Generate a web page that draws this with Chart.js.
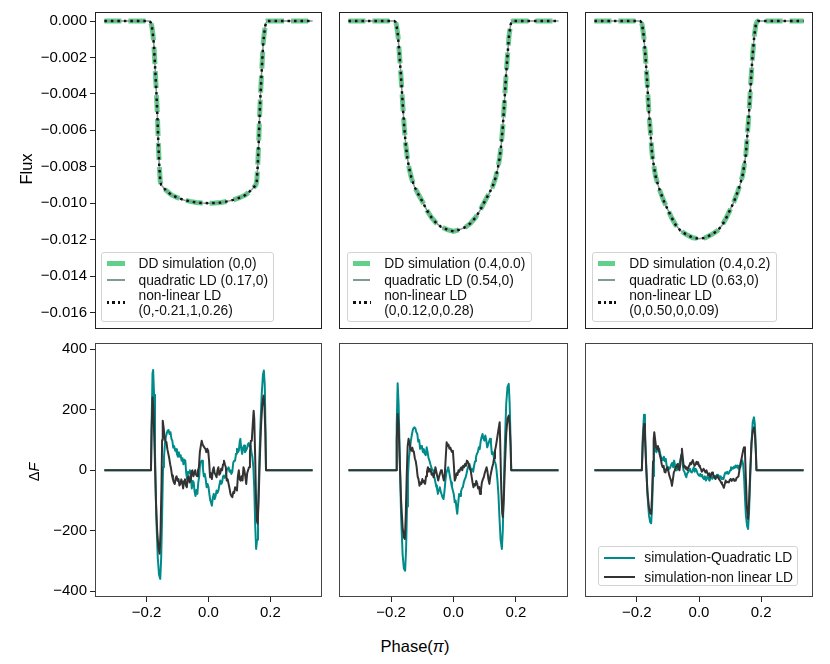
<!DOCTYPE html>
<html><head><meta charset="utf-8">
<script src="https://cdn.jsdelivr.net/npm/chart.js@4.4.0/dist/chart.umd.min.js"></script>
<style>
body{margin:0;background:#fff;width:830px;height:664px;position:relative;overflow:hidden;font-family:"Liberation Sans",Arial,sans-serif;color:#000;}
.pc{position:absolute}
.lg{position:absolute;border:1px solid #d3d3d3;border-radius:3px;background:rgba(255,255,255,0.8);box-sizing:border-box;font-size:13.8px;color:#111;}
.lg .h{position:absolute}
.lg .t{position:absolute;line-height:15px;white-space:nowrap}
.ax{position:absolute;white-space:nowrap;font-size:16.5px;line-height:20px}
</style></head><body>
<script>
// ---------- data ----------
const phaseTicks = [-0.2, 0, 0.2];
const fluxTicks = [0, -0.002, -0.004, -0.006, -0.008, -0.010, -0.012, -0.014, -0.016];
const dfTicks = [400, 200, 0, -200, -400];

const legendSim = ["DD simulation (0,0)", "DD simulation (0.4,0.0)", "DD simulation (0.4,0.2)"];
const legendQuad = ["quadratic LD (0.17,0)", "quadratic LD (0.54,0)", "quadratic LD (0.63,0)"];
const legendNL = [["non-linear LD", "(0,-0.21,1,0.26)"], ["non-linear LD", "(0,0.12,0,0.28)"], ["non-linear LD", "(0,0.50,0,0.09)"]];
const legendRes = ["simulation-Quadratic LD", "simulation-non linear LD"];

const fluxSim1 = [[-0.3367,0],[-0.19,0],[-0.186,-0.0001],[-0.183,-0.0003],[-0.180,-0.0007],[-0.177,-0.0012],[-0.174,-0.0021],[-0.171,-0.0031],[-0.168,-0.0041],[-0.165,-0.0053],[-0.162,-0.0068],[-0.159,-0.0080],[-0.156,-0.0088],[-0.153,-0.0090],[-0.14,-0.00925],[-0.12,-0.00955],[-0.10,-0.0097],[-0.08,-0.00982],[-0.06,-0.0099],[-0.04,-0.00996],[-0.02,-0.00999],[0,-0.0100],[0.02,-0.00999],[0.04,-0.00996],[0.06,-0.0099],[0.08,-0.00982],[0.10,-0.0097],[0.12,-0.00955],[0.14,-0.00925],[0.153,-0.0090],[0.156,-0.0088],[0.159,-0.0080],[0.162,-0.0068],[0.165,-0.0053],[0.168,-0.0041],[0.171,-0.0031],[0.174,-0.0021],[0.177,-0.0012],[0.180,-0.0007],[0.183,-0.0003],[0.186,-0.0001],[0.19,0],[0.3367,0]];
const fluxSim2 = [[-0.3367,0],[-0.19,0],[-0.186,-0.00005],[-0.183,-0.0002],[-0.178,-0.0008],[-0.173,-0.0019],[-0.168,-0.0031],[-0.163,-0.0045],[-0.158,-0.0058],[-0.153,-0.0068],[-0.148,-0.0075],[-0.142,-0.0081],[-0.135,-0.0086],[-0.125,-0.0091],[-0.113,-0.0095],[-0.100,-0.0099],[-0.085,-0.0104],[-0.070,-0.0108],[-0.055,-0.0111],[-0.040,-0.0113],[-0.020,-0.01145],[0,-0.01155],[0.020,-0.01145],[0.040,-0.0113],[0.055,-0.0111],[0.070,-0.0108],[0.085,-0.0104],[0.100,-0.0099],[0.113,-0.0095],[0.125,-0.0091],[0.135,-0.0086],[0.142,-0.0081],[0.148,-0.0075],[0.153,-0.0068],[0.158,-0.0058],[0.163,-0.0045],[0.168,-0.0031],[0.173,-0.0019],[0.178,-0.0008],[0.183,-0.0002],[0.186,-0.00005],[0.19,0],[0.3367,0]];
const fluxSim3 = [[-0.3367,0],[-0.19,0],[-0.186,-0.00005],[-0.183,-0.0002],[-0.178,-0.0008],[-0.1725,-0.0019],[-0.167,-0.0033],[-0.162,-0.0048],[-0.156,-0.0062],[-0.151,-0.0073],[-0.145,-0.0080],[-0.140,-0.0085],[-0.132,-0.0090],[-0.124,-0.0094],[-0.113,-0.0099],[-0.102,-0.0103],[-0.088,-0.0108],[-0.075,-0.0112],[-0.060,-0.0115],[-0.043,-0.0117],[-0.020,-0.0119],[0,-0.01195],[0.020,-0.0119],[0.043,-0.0117],[0.060,-0.0115],[0.075,-0.0112],[0.088,-0.0108],[0.102,-0.0103],[0.113,-0.0099],[0.124,-0.0094],[0.132,-0.0090],[0.140,-0.0085],[0.145,-0.0080],[0.151,-0.0073],[0.156,-0.0062],[0.162,-0.0048],[0.167,-0.0033],[0.1725,-0.0019],[0.178,-0.0008],[0.183,-0.0002],[0.186,-0.00005],[0.19,0],[0.3367,0]];
// fitted models overlap the simulation within a pixel
const fluxQuad1 = fluxSim1, fluxNL1 = fluxSim1;
const fluxQuad2 = fluxSim2, fluxNL2 = fluxSim2;
const fluxQuad3 = fluxSim3, fluxNL3 = fluxSim3;

const resQuad1 = [[-0.3367,0],[-0.186,0],[-0.184,150],[-0.181,320],[-0.179,332],[-0.176,250],[-0.173,60],[-0.169,-150],[-0.164,-290],[-0.160,-345],[-0.156,-359],[-0.153,-290],[-0.150,-150],[-0.147,10],[-0.144,43],[-0.141,85],[-0.138,110],[-0.135,122],[-0.132,131],[-0.129,133],[-0.126,120],[-0.123,126],[-0.120,105],[-0.117,98],[-0.114,75],[-0.111,80],[-0.108,65],[-0.105,70],[-0.102,54],[-0.099,45],[-0.096,60],[-0.093,45],[-0.090,50],[-0.087,32],[-0.084,40],[-0.081,20],[-0.078,35],[-0.075,32],[-0.072,-10],[-0.069,-30],[-0.066,-5],[-0.063,-10],[-0.060,0],[-0.057,-20],[-0.054,-60],[-0.051,-35],[-0.048,-40],[-0.045,-70],[-0.042,-85],[-0.039,-65],[-0.036,-78],[-0.033,-40],[-0.030,-20],[-0.027,25],[-0.024,30],[-0.021,32],[-0.018,5],[-0.015,-20],[-0.012,-12],[-0.009,-30],[-0.006,-56],[-0.003,-45],[0.000,-56],[0.003,-80],[0.006,-100],[0.009,-110],[0.011,-117],[0.014,-90],[0.017,-78],[0.020,-95],[0.023,-85],[0.026,-67],[0.029,-75],[0.032,-67],[0.035,-50],[0.038,-34],[0.041,-45],[0.044,-40],[0.047,-20],[0.050,-17],[0.053,-25],[0.056,-17],[0.059,0],[0.062,5],[0.065,10],[0.068,-5],[0.071,0],[0.074,-12],[0.077,-5],[0.080,25],[0.083,32],[0.086,32],[0.089,55],[0.092,71],[0.095,60],[0.098,65],[0.101,95],[0.103,104],[0.106,70],[0.109,54],[0.112,75],[0.115,82],[0.118,60],[0.121,65],[0.124,71],[0.127,85],[0.130,90],[0.133,78],[0.136,82],[0.139,60],[0.142,43],[0.145,10],[0.148,-60],[0.151,-180],[0.154,-260],[0.157,-230],[0.160,-140],[0.164,20],[0.168,150],[0.172,250],[0.176,315],[0.179,330],[0.182,280],[0.184,150],[0.186,0],[0.3367,0]];
const resNL1 = [[-0.3367,0],[-0.186,0],[-0.184,130],[-0.181,241],[-0.178,200],[-0.174,60],[-0.170,-100],[-0.166,-200],[-0.162,-255],[-0.158,-276],[-0.155,-200],[-0.152,-50],[-0.150,100],[-0.148,164],[-0.145,140],[-0.142,110],[-0.139,95],[-0.136,93],[-0.133,70],[-0.130,55],[-0.127,40],[-0.124,20],[-0.121,5],[-0.118,-17],[-0.115,-30],[-0.112,-40],[-0.109,-45],[-0.106,-25],[-0.103,-20],[-0.100,-35],[-0.097,-29],[-0.094,-50],[-0.091,-45],[-0.088,-30],[-0.085,-40],[-0.082,-60],[-0.079,-35],[-0.076,-30],[-0.073,-50],[-0.070,-56],[-0.067,-25],[-0.064,-20],[-0.061,-40],[-0.058,-35],[-0.055,-5],[-0.052,0],[-0.049,-20],[-0.046,-10],[-0.043,0],[-0.040,-15],[-0.037,-20],[-0.034,0],[-0.031,10],[-0.028,60],[-0.025,80],[-0.022,98],[-0.019,85],[-0.016,80],[-0.013,75],[-0.010,71],[-0.007,60],[-0.004,71],[-0.001,65],[0.002,30],[0.005,-23],[0.008,-10],[0.011,-29],[0.014,0],[0.017,10],[0.020,-10],[0.023,-15],[0.026,-23],[0.029,0],[0.032,10],[0.035,-15],[0.038,-10],[0.041,5],[0.044,0],[0.047,20],[0.050,32],[0.053,20],[0.056,10],[0.059,-34],[0.062,-30],[0.065,-45],[0.068,-60],[0.071,-78],[0.074,-85],[0.077,-89],[0.080,-72],[0.083,-75],[0.086,-56],[0.089,-60],[0.092,-67],[0.095,-20],[0.098,0],[0.101,-30],[0.104,-34],[0.107,-20],[0.110,-34],[0.113,10],[0.116,0],[0.119,-20],[0.122,-45],[0.125,-10],[0.128,0],[0.131,10],[0.134,60],[0.137,98],[0.140,98],[0.143,150],[0.146,197],[0.148,170],[0.151,40],[0.154,-110],[0.157,-170],[0.159,-177],[0.162,-100],[0.166,40],[0.170,150],[0.174,220],[0.178,247],[0.181,210],[0.184,120],[0.186,0],[0.3367,0]];
const resQuad2 = [[-0.3367,0],[-0.184,0],[-0.182,150],[-0.179,288],[-0.176,220],[-0.172,40],[-0.168,-150],[-0.163,-280],[-0.159,-325],[-0.155,-332],[-0.152,-260],[-0.149,-120],[-0.146,-20],[-0.143,40],[-0.140,65],[-0.137,95],[-0.134,115],[-0.131,131],[-0.128,140],[-0.125,142],[-0.122,138],[-0.119,126],[-0.116,120],[-0.113,95],[-0.110,100],[-0.107,71],[-0.104,80],[-0.101,76],[-0.098,60],[-0.095,70],[-0.092,54],[-0.089,50],[-0.086,76],[-0.083,60],[-0.080,40],[-0.077,32],[-0.074,20],[-0.071,10],[-0.068,0],[-0.065,0],[-0.062,-20],[-0.059,-34],[-0.056,-50],[-0.053,-60],[-0.050,-78],[-0.047,-65],[-0.044,-56],[-0.041,-70],[-0.038,-80],[-0.035,-90],[-0.032,-95],[-0.029,-70],[-0.026,-34],[-0.023,-10],[-0.020,0],[-0.017,10],[-0.014,-5],[-0.011,-23],[-0.008,-40],[-0.005,-55],[-0.002,-67],[0.001,-80],[0.004,-106],[0.007,-100],[0.010,-130],[0.012,-144],[0.015,-110],[0.018,-78],[0.021,-85],[0.024,-70],[0.027,-60],[0.030,-56],[0.033,-40],[0.036,-30],[0.039,-23],[0.042,-10],[0.045,5],[0.048,15],[0.051,21],[0.054,10],[0.057,0],[0.060,5],[0.063,-5],[0.066,15],[0.069,30],[0.072,43],[0.075,55],[0.078,60],[0.081,76],[0.084,70],[0.087,95],[0.090,110],[0.093,120],[0.096,105],[0.099,98],[0.102,115],[0.105,100],[0.108,76],[0.111,85],[0.114,95],[0.117,104],[0.120,90],[0.123,54],[0.126,60],[0.129,45],[0.132,30],[0.135,21],[0.138,0],[0.141,-34],[0.144,-80],[0.147,-150],[0.151,-230],[0.155,-260],[0.158,-200],[0.161,-60],[0.165,100],[0.169,220],[0.173,275],[0.177,286],[0.180,220],[0.183,100],[0.185,0],[0.3367,0]];
const resNL2 = [[-0.3367,0],[-0.184,0],[-0.182,100],[-0.179,186],[-0.176,150],[-0.172,20],[-0.168,-100],[-0.163,-190],[-0.159,-222],[-0.156,-227],[-0.153,-150],[-0.150,-20],[-0.147,80],[-0.144,104],[-0.141,90],[-0.138,70],[-0.135,65],[-0.132,75],[-0.129,62],[-0.127,60],[-0.124,40],[-0.121,30],[-0.118,10],[-0.115,-20],[-0.112,-30],[-0.109,-51],[-0.106,-40],[-0.103,-45],[-0.100,-29],[-0.097,-40],[-0.094,-35],[-0.091,-45],[-0.088,-20],[-0.085,-5],[-0.082,10],[-0.079,-5],[-0.076,5],[-0.073,0],[-0.070,-15],[-0.067,-10],[-0.064,-23],[-0.061,-10],[-0.058,10],[-0.055,-5],[-0.052,-20],[-0.049,-34],[-0.046,-20],[-0.043,-10],[-0.040,0],[-0.037,-5],[-0.034,-20],[-0.031,-34],[-0.028,-15],[-0.025,40],[-0.022,93],[-0.019,80],[-0.016,85],[-0.013,71],[-0.010,75],[-0.007,65],[-0.004,60],[-0.002,65],[0.001,20],[0.004,-34],[0.007,-25],[0.010,-10],[0.013,-15],[0.016,0],[0.019,-5],[0.022,5],[0.025,10],[0.028,0],[0.031,15],[0.034,10],[0.037,21],[0.040,15],[0.043,32],[0.046,28],[0.049,20],[0.052,5],[0.055,0],[0.058,-20],[0.061,-40],[0.064,-56],[0.067,-45],[0.070,-50],[0.073,-35],[0.076,-45],[0.079,-60],[0.082,-55],[0.085,-78],[0.088,-65],[0.091,-40],[0.094,-30],[0.097,-23],[0.100,-10],[0.103,0],[0.106,10],[0.109,-5],[0.112,-30],[0.115,-45],[0.118,-20],[0.121,-5],[0.124,10],[0.127,21],[0.130,40],[0.133,65],[0.136,80],[0.139,100],[0.142,120],[0.145,140],[0.148,159],[0.150,80],[0.153,-60],[0.156,-140],[0.158,-155],[0.161,-100],[0.165,20],[0.169,120],[0.173,170],[0.177,181],[0.180,150],[0.183,80],[0.185,0],[0.3367,0]];
const resQuad3 = [[-0.3367,0],[-0.184,0],[-0.181,110],[-0.177,184],[-0.174,140],[-0.170,20],[-0.166,-80],[-0.161,-150],[-0.157,-172],[-0.154,-175],[-0.151,-120],[-0.148,-20],[-0.145,60],[-0.143,82],[-0.140,65],[-0.137,60],[-0.134,75],[-0.131,65],[-0.128,71],[-0.125,55],[-0.122,43],[-0.119,40],[-0.116,33],[-0.113,45],[-0.110,30],[-0.107,38],[-0.104,15],[-0.101,0],[-0.098,10],[-0.095,5],[-0.092,10],[-0.089,20],[-0.086,25],[-0.083,10],[-0.080,32],[-0.077,15],[-0.074,0],[-0.071,10],[-0.068,20],[-0.065,10],[-0.062,25],[-0.059,40],[-0.056,55],[-0.053,30],[-0.050,0],[-0.047,-5],[-0.044,-15],[-0.041,-23],[-0.038,-10],[-0.035,-7],[-0.032,0],[-0.029,5],[-0.026,-5],[-0.023,-7],[-0.020,0],[-0.017,10],[-0.014,-5],[-0.011,5],[-0.008,0],[-0.005,-10],[-0.002,-15],[0.001,-18],[0.004,-12],[0.007,-20],[0.010,-15],[0.013,-25],[0.016,-29],[0.019,-20],[0.022,-34],[0.025,-25],[0.028,-18],[0.031,-30],[0.034,-34],[0.037,-25],[0.040,-20],[0.043,-28],[0.046,-18],[0.049,-25],[0.052,-18],[0.055,-23],[0.058,-15],[0.061,-20],[0.064,-18],[0.067,-25],[0.070,-20],[0.073,-29],[0.076,-25],[0.079,-29],[0.082,-15],[0.085,-7],[0.088,-10],[0.091,-5],[0.094,-12],[0.097,-8],[0.100,0],[0.103,10],[0.106,8],[0.109,5],[0.112,12],[0.115,8],[0.118,16],[0.121,10],[0.124,16],[0.127,5],[0.130,15],[0.133,10],[0.136,25],[0.139,33],[0.142,20],[0.145,-20],[0.148,-90],[0.151,-150],[0.155,-185],[0.158,-194],[0.161,-140],[0.165,-20],[0.169,90],[0.173,160],[0.177,175],[0.180,150],[0.183,70],[0.185,0],[0.3367,0]];
const resNL3 = [[-0.3367,0],[-0.184,0],[-0.181,90],[-0.177,153],[-0.174,110],[-0.170,10],[-0.166,-70],[-0.161,-125],[-0.157,-142],[-0.154,-144],[-0.151,-80],[-0.148,30],[-0.146,100],[-0.144,126],[-0.141,100],[-0.138,76],[-0.135,70],[-0.132,80],[-0.129,65],[-0.126,50],[-0.123,38],[-0.120,20],[-0.117,10],[-0.114,15],[-0.111,-5],[-0.108,-7],[-0.105,5],[-0.102,10],[-0.099,0],[-0.096,-15],[-0.093,-25],[-0.090,-34],[-0.087,-51],[-0.084,-30],[-0.081,-7],[-0.078,0],[-0.075,10],[-0.072,15],[-0.069,21],[-0.066,5],[-0.063,0],[-0.060,20],[-0.057,50],[-0.055,71],[-0.052,40],[-0.049,10],[-0.046,15],[-0.043,5],[-0.040,10],[-0.037,0],[-0.034,10],[-0.031,16],[-0.028,25],[-0.025,20],[-0.022,30],[-0.020,34],[-0.017,23],[-0.014,15],[-0.011,20],[-0.008,28],[-0.005,20],[-0.003,27],[0.000,15],[0.003,10],[0.006,5],[0.009,-5],[0.012,0],[0.015,5],[0.018,-2],[0.021,-7],[0.024,0],[0.027,-10],[0.030,-15],[0.033,-10],[0.036,-23],[0.039,-15],[0.042,-7],[0.045,-12],[0.048,-20],[0.051,-25],[0.053,-29],[0.056,-22],[0.059,-18],[0.062,-25],[0.065,-30],[0.068,-34],[0.071,-40],[0.074,-45],[0.077,-50],[0.080,-58],[0.083,-45],[0.086,-34],[0.089,-40],[0.092,-38],[0.096,-40],[0.099,-32],[0.102,-29],[0.105,-35],[0.108,-30],[0.111,-28],[0.114,-35],[0.118,-34],[0.121,-25],[0.124,-23],[0.127,-20],[0.130,0],[0.134,25],[0.137,38],[0.140,55],[0.143,70],[0.145,76],[0.148,60],[0.151,-30],[0.154,-120],[0.158,-161],[0.161,-110],[0.165,0],[0.169,90],[0.173,130],[0.177,142],[0.180,120],[0.183,60],[0.185,0],[0.3367,0]];

// ---------- styling / layout ----------
const C = {sim:'#62cf8b', quad:'#7d9a95', nl:'#111111', teal:'#008b8b', dark:'#333333'};
const cols = [{left:95,w:227},{left:339,w:229},{left:585,w:228}];
const rows = [{top:12,h:317,min:-0.01691,max:0.0005,ticks:fluxTicks,frame:'#222'},
              {top:343,h:254,min:-419,max:421,ticks:dfTicks,frame:'#444'}];
const FONT = {family:"'Liberation Sans', Arial, sans-serif", size:15};
Chart.defaults.font.family = FONT.family;

const framePlugin = {
  id:'frame',
  afterDatasetsDraw(chart, args, o){
    const a = chart.chartArea, ctx = chart.ctx;
    ctx.save(); ctx.strokeStyle = o.color || '#222'; ctx.lineWidth = 1;
    ctx.strokeRect(Math.round(a.left)+0.5, Math.round(a.top)+0.5, Math.round(a.right-a.left)-1, Math.round(a.bottom-a.top)-1);
    ctx.restore();
  }
};
Chart.register(framePlugin);

const minus = s => s.replace('-', '\u2212');
const fmtFlux = v => Math.abs(v) < 1e-9 ? '0.000' : minus(v.toFixed(3));
const fmtDF = v => Math.abs(v) < 1e-9 ? '0' : minus(String(Math.round(v)));
const fmtPhase = v => Math.abs(v) < 1e-9 ? '0.0' : minus(v.toFixed(1));
const pts = arr => arr.map(p => ({x:p[0], y:p[1]}));

function panel(ci, ri, datasets){
  const col = cols[ci], row = rows[ri];
  const showY = ci === 0, showX = ri === 1;
  const padL = showY ? 92 : 4, padB = showX ? 32 : 14, padT = 14, padR = 4;
  const div = document.createElement('div');
  div.className = 'pc';
  div.style.left = (col.left - padL) + 'px';
  div.style.top = (row.top - padT) + 'px';
  const cv = document.createElement('canvas');
  const W = col.w + padL + padR, H = row.h + padT + padB;
  cv.width = W; cv.height = H; cv.style.width = W + 'px'; cv.style.height = H + 'px';
  div.appendChild(cv); document.body.appendChild(div);
  const tickGrid = show => ({display:show, drawOnChartArea:false, drawTicks:true, tickLength:5, tickWidth:1, color:'#222'});
  new Chart(cv, {
    type:'line',
    data:{datasets},
    options:{
      responsive:false, animation:false, events:[],
      layout:{padding:{top:padT, right:padR, left:0, bottom:0}},
      plugins:{legend:{display:false}, tooltip:{enabled:false}, frame:{color:row.frame}},
      elements:{point:{radius:0}, line:{tension:0}},
      scales:{
        x:{type:'linear', min:-0.367, max:0.367,
           afterBuildTicks:s => { s.ticks = phaseTicks.map(v => ({value:v})); },
           afterFit:s => { s.height = padB; },
           ticks:{display:showX, autoSkip:false, maxRotation:0, padding:2, font:FONT, color:'#000', callback:v => fmtPhase(v)},
           grid:tickGrid(showX), border:{display:false}},
        y:{type:'linear', min:row.min, max:row.max,
           afterBuildTicks:s => { s.ticks = row.ticks.map(v => ({value:v})); },
           afterFit:s => { s.width = padL; },
           ticks:{display:showY, autoSkip:false, padding:3, font:FONT, color:'#000', callback:v => (ri === 0 ? fmtFlux(v) : fmtDF(v))},
           grid:tickGrid(showY), border:{display:false}}
      }
    }
  });
}

function fluxSets(sim, quad, nl){
  return [
    {data:pts(nl), borderColor:C.nl, borderWidth:2.5, borderDash:[2.5,4], order:1, borderCapStyle:'butt'},
    {data:pts(quad), borderColor:C.quad, borderWidth:1.5, order:2},
    {data:pts(sim), borderColor:C.sim, borderWidth:5, borderDash:[17,7], order:3, borderCapStyle:'butt'}
  ];
}
function resSets(q, n){
  return [
    {data:pts(n), borderColor:C.dark, borderWidth:2, order:1, borderJoinStyle:'round'},
    {data:pts(q), borderColor:C.teal, borderWidth:2, order:2, borderJoinStyle:'round'}
  ];
}

panel(0,0,fluxSets(fluxSim1, fluxQuad1, fluxNL1));
panel(1,0,fluxSets(fluxSim2, fluxQuad2, fluxNL2));
panel(2,0,fluxSets(fluxSim3, fluxQuad3, fluxNL3));
panel(0,1,resSets(resQuad1, resNL1));
panel(1,1,resSets(resQuad2, resNL2));
panel(2,1,resSets(resQuad3, resNL3));

// ---------- legends ----------
function el(parent, cls, css, html){
  const d = document.createElement('div'); d.className = cls; Object.assign(d.style, css);
  if (html !== undefined) d.innerHTML = html; parent.appendChild(d); return d;
}
const topLegendBox = [{left:101,w:173.3},{left:346.7,w:185},{left:591.7,w:185}];
topLegendBox.forEach((b, i) => {
  const box = el(document.body, 'lg', {left:b.left+'px', top:'252.3px', width:b.w+'px', height:'70px'});
  el(box, 'h', {left:'5px', top:'8px', width:'17.5px', height:'5px', background:C.sim});
  el(box, 't', {left:'36.5px', top:'3px'}, legendSim[i]);
  el(box, 'h', {left:'5px', top:'26px', width:'17.5px', height:'1.5px', background:C.quad});
  el(box, 't', {left:'36.5px', top:'19.7px'}, legendQuad[i]);
  el(box, 'h', {left:'5px', top:'48px', width:'18px', height:'2.5px',
      background:'repeating-linear-gradient(90deg,'+C.nl+' 0 2.5px,transparent 2.5px 5.5px)'});
  el(box, 't', {left:'36.5px', top:'34.7px'}, legendNL[i].join('<br>'));
});
const rb = el(document.body, 'lg', {left:'598.3px', top:'545.7px', width:'199.4px', height:'40px'});
el(rb, 'h', {left:'5px', top:'10px', width:'30.3px', height:'2px', background:C.teal});
el(rb, 't', {left:'45px', top:'3.5px', lineHeight:'16px'}, legendRes[0]);
el(rb, 'h', {left:'5px', top:'29.6px', width:'30.3px', height:'2px', background:C.dark});
el(rb, 't', {left:'45px', top:'23px', lineHeight:'16px'}, legendRes[1]);

// ---------- axis labels ----------
el(document.body, 'ax', {left:'25.5px', top:'169px', transform:'translate(-50%,-50%) rotate(-90deg)'}, 'Flux');
el(document.body, 'ax', {left:'33.5px', top:'472px', fontSize:'14.5px', transform:'translate(-50%,-50%) rotate(-90deg)'}, '\u0394<i>F</i>');
el(document.body, 'ax', {left:'415px', top:'646px', transform:'translate(-50%,-50%)'}, 'Phase(<i>\u03c0</i>)');
</script>
</body></html>
